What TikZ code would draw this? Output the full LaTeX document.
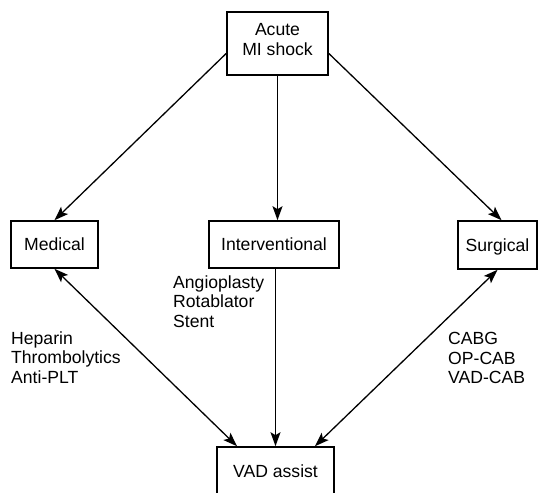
\documentclass[tikz,border=0pt]{standalone}
\usepackage{fontspec}
\setmainfont{Liberation Sans}
\usetikzlibrary{arrows.meta,calc}
\tikzset{
  boxnode/.style={draw=black, line width=1.6pt, rectangle, inner sep=0pt,
    font=\fontsize{17.6}{19.5}\selectfont, text height=12.6pt, text depth=0pt},
  txt/.style={inner sep=0pt, anchor=north west, align=left,
    font=\fontsize{17.6}{19.5}\selectfont},
  conn/.style={line width=1.3pt, draw=black},
  >={Stealth[length=14pt,width=10pt,inset=3pt]}
}
\begin{document}
\begin{tikzpicture}[x=1pt,y=-1pt]
\useasboundingbox (0,0) rectangle (540,492);
\clip (0,0) rectangle (540,492);
% boxes
\node[draw=black, line width=1.6pt, rectangle, inner sep=0pt,
      minimum width=101pt, minimum height=63pt] (acute) at (277.5,43.5) {};
\node[inner sep=0pt, align=center, font=\fontsize{17.6}{19.5}\selectfont]
      (acutetext) at (277.5,39.4) {Acute\\MI shock};
\node[boxnode, minimum width=87pt, minimum height=47pt] (medical) at (54.5,244.5) {Medical};
\node[boxnode, minimum width=130pt, minimum height=47pt] (interv) at (274,244.5) {Interventional};
\node[boxnode, minimum width=79pt, minimum height=48pt] (surgical) at (497.5,245) {Surgical};
\node[boxnode, minimum width=117pt, minimum height=48pt] (vad) at (275.5,471) {VAD assist};
% texts
\node[txt] (interlist) at (173,275.4) {Angioplasty\\Rotablator\\Stent};
\node[txt] (medlist) at (11,331.4) {Heparin\\Thrombolytics\\Anti-PLT};
\node[txt] (surglist) at (448,332.4) {CABG\\OP-CAB\\VAD-CAB};
% connectors
\draw[conn,->] (acute.191) -- (medical.north);
\draw[conn,->] (acute.south) -- (interv.north -| acute.south);
\draw[conn,->] (acute.-11) -- ($(surgical.north)+(4,0)$);
\draw[conn,<->] (medical.south) -- ($(vad.north)+(-38.5,0)$);
\draw[conn,->] (interv.south -| vad.north) -- (vad.north);
\draw[conn,<->] (surgical.south) -- ($(vad.north)+(39.5,0)$);
\end{tikzpicture}
\end{document}
